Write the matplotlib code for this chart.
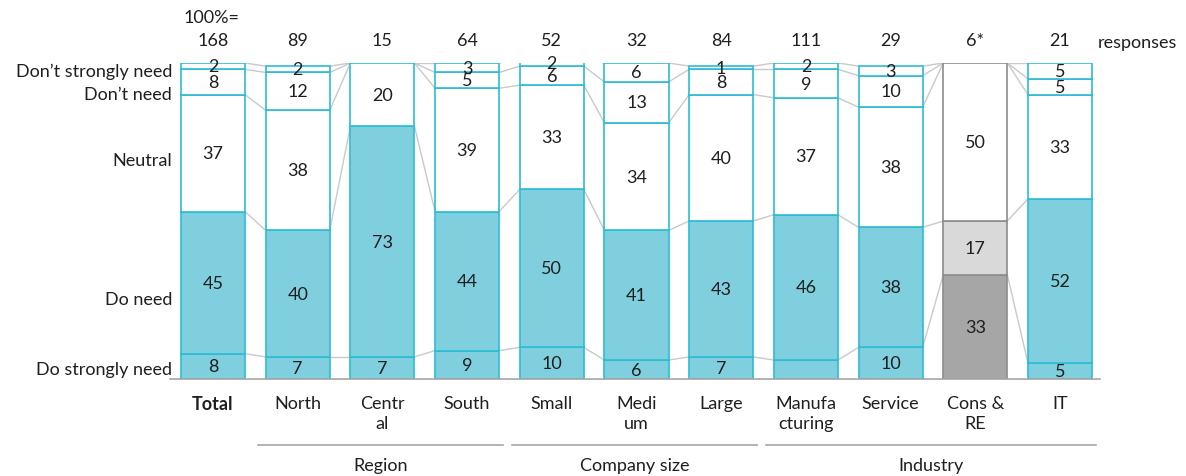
import matplotlib
matplotlib.use("Agg")
import matplotlib.pyplot as plt
import numpy as np

plt.rcParams['font.family'] = ['Lato', 'DejaVu Sans']

# Categories along the x axis
categories = ["Total", "North", "Centr\nal", "South", "Small", "Medi\num", "Large",
              "Manufa\ncturing", "Service", "Cons &\nRE", "IT"]
responses = ["168", "89", "15", "64", "52", "32", "84", "111", "29", "6*", "21"]

# Share of answers (%), one list per answer, bottom to top
do_strongly_need = [8, 7, 7, 9, 10, 6, 7, 6, 10, 33, 5]
do_need = [45, 40, 73, 44, 50, 41, 43, 46, 38, 17, 52]
neutral = [37, 38, 20, 39, 33, 34, 40, 37, 38, 50, 33]
dont_need = [8, 12, 0, 5, 6, 13, 8, 9, 10, 0, 5]
dont_strongly_need = [2, 2, 0, 3, 2, 6, 1, 2, 3, 0, 5]

series_names = ["Do strongly need", "Do need", "Neutral", "Don\u2019t need", "Don\u2019t strongly need"]
# Segments whose value is not printed (category index, series index)
hidden_labels = {(7, 0)}

groups = [("Region", 1, 3), ("Company size", 4, 6), ("Industry", 7, 10)]

series = [do_strongly_need, do_need, neutral, dont_need, dont_strongly_need]
n = len(categories)
x = np.arange(n)
w = 0.756
FS = 13
TXT = "#1f1f1f"

teal_fill = "#80cfdf"
teal_edge = "#2cbcd4"
fills = [teal_fill, teal_fill, "white", "white", "white"]
gray_fills = ["#a6a6a6", "#d9d9d9", "white", "white", "white"]
gray_edge = "#8c8c8c"
gray_index = 9

fig = plt.figure(figsize=(11.86, 4.77), dpi=100)
ax = fig.add_axes([170 / 1186, 1 - 380 / 477, 930 / 1186, 316 / 477])
ax.set_xlim((170 - 213) / 84.7, (1100 - 213) / 84.7)
ax.set_ylim(0, 100)
ax.axis("off")

data = np.array(series, dtype=float)
cum = np.vstack([np.zeros(n), np.cumsum(data, axis=0)])

# Connector lines between neighbouring bars
for i in range(n - 1):
    for k in range(1, cum.shape[0]):
        ax.plot([x[i] + w / 2, x[i + 1] - w / 2], [cum[k, i], cum[k, i + 1]],
                color="#c9c9c9", lw=1.0, zorder=1, solid_capstyle="butt")

# Stacked bars
for s in range(len(series)):
    vals = data[s]
    bottoms = cum[s]
    for i in range(n):
        if vals[i] <= 0:
            continue
        if i == gray_index:
            fc, ec = gray_fills[s], gray_edge
        else:
            fc, ec = fills[s], teal_edge
        ax.bar(x[i], vals[i], w, bottom=bottoms[i], color=fc, edgecolor=ec,
               linewidth=1.2, zorder=2)
        if (i, s) not in hidden_labels:
            ax.text(x[i], bottoms[i] + vals[i] / 2, f"{int(vals[i])}", ha="center",
                    va="center", fontsize=FS, color=TXT, zorder=3)

# Baseline
ax.plot([(170 - 213) / 84.7, (1100 - 213) / 84.7], [0, 0], color="#a6a6a6",
        lw=1.2, clip_on=False, zorder=4)

# Row labels on the left
row_label_y = [3.2, 25.3, 69.3, 90.2, 97.5]
for name, yy in zip(series_names, row_label_y):
    ax.text(-0.484, yy, name, ha="right", va="center", fontsize=FS,
            color=TXT, clip_on=False)

# Response counts above the bars
ax.text(-0.354, 114.6, "100%=", ha="left", va="center", fontsize=FS,
        color=TXT, clip_on=False)
for i in range(n):
    ax.text(x[i], 107.3, responses[i], ha="center", va="center", fontsize=FS,
            color=TXT, clip_on=False)
ax.text(10.44, 106.6, "responses", ha="left", va="center", fontsize=FS,
        color=TXT, clip_on=False)

# Category labels
for i, c in enumerate(categories):
    ax.text(x[i], -5.0, c, ha="center", va="top", fontsize=FS, color=TXT,
            fontweight="bold" if i == 0 else "normal", clip_on=False,
            linespacing=1.3)

# Group brackets
for name, a, b in groups:
    x0 = a - 0.47
    x1 = b + 0.42
    ax.plot([x0, x1], [-20.9, -20.9], color="#a6a6a6", lw=1.2, clip_on=False)
    ax.text((x0 + x1) / 2, -27.2, name, ha="center", va="center", fontsize=FS,
            color=TXT, clip_on=False)

fig.savefig("out.png", dpi=100)
